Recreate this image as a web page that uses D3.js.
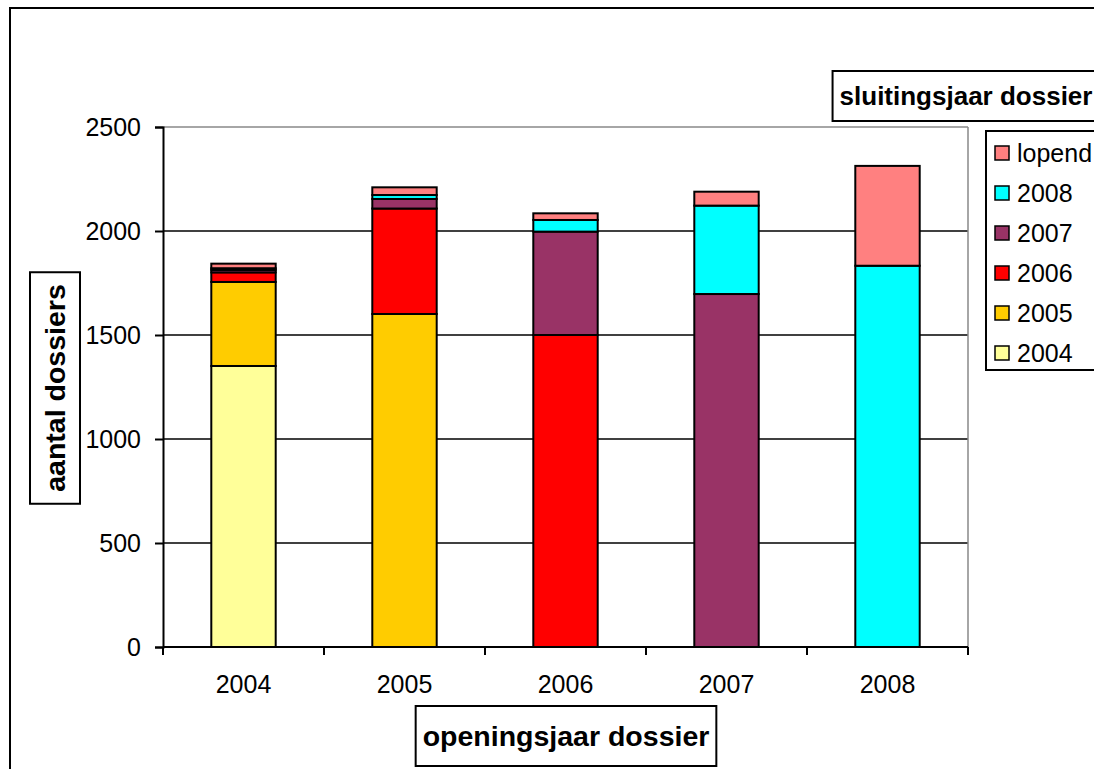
<!DOCTYPE html>
<html>
<head>
<meta charset="utf-8">
<script src="https://cdn.jsdelivr.net/npm/d3@7"></script>
<style>
  body { margin: 0; background: #fff; }
  text { font-family: "Liberation Sans", Arial, sans-serif; fill: #000; }
</style>
</head>
<body>
<div id="chart"></div>
<script>
const openingYears = ['2004', '2005', '2006', '2007', '2008']
const closingKeys = ['2004', '2005', '2006', '2007', '2008', 'lopend']
// per opening year, number of files closed in 2004..2008 or still running
const closed2004 = [1351, 0, 0, 0, 0]
const closed2005 = [404, 1601, 0, 0, 0]
const closed2006 = [46, 507, 1500, 0, 0]
const closed2007 = [12, 46, 497, 1697, 0]
const closed2008 = [8, 19, 56, 425, 1833]
const lopend = [22, 37, 32, 67, 480]
const yTicks = [0, 500, 1000, 1500, 2000, 2500]
const colors = ['#FFFF99', '#FFCC00', '#FF0000', '#993366', '#00FFFF', '#FF8080']

const width = 1094,
      height = 769
const margin = { top: 127, left: 163, right: 126, bottom: 122 }

const rows = openingYears.map(function(y, i) {
  return {
    year: y,
    '2004': closed2004[i], '2005': closed2005[i], '2006': closed2006[i],
    '2007': closed2007[i], '2008': closed2008[i], 'lopend': lopend[i]
  }
})

const svg = d3.select('#chart')
  .append('svg')
  .attr('width', width)
  .attr('height', height)

// outer chart frame
svg.append('rect')
  .attr('x', 10).attr('y', 8)
  .attr('width', 1200).attr('height', 900)
  .attr('fill', 'none').attr('stroke', '#000').attr('stroke-width', 2)

const x = d3.scaleBand()
  .domain(openingYears)
  .range([margin.left, width - margin.right])
  .paddingInner(0.6)
  .paddingOuter(0.3)

const y = d3.scaleLinear()
  .domain([0, 2500])
  .range([height - margin.bottom, margin.top])

// grid lines
svg.append('g')
  .selectAll('line')
  .data(yTicks.slice(1))
  .enter().append('line')
  .attr('x1', margin.left).attr('x2', width - margin.right)
  .attr('y1', function(d) { return y(d) })
  .attr('y2', function(d) { return y(d) })
  .attr('stroke', function(d) { return d === 2500 ? '#888' : '#000' })
  .attr('stroke-width', 1.5)

// right border of plot area
svg.append('line')
  .attr('x1', width - margin.right).attr('x2', width - margin.right)
  .attr('y1', y(2500)).attr('y2', y(0))
  .attr('stroke', '#888').attr('stroke-width', 1.5)

const stack = d3.stack().keys(closingKeys)(rows)

svg.append('g')
  .selectAll('g')
  .data(stack)
  .enter().append('g')
  .attr('fill', function(d, i) { return colors[i] })
  .selectAll('rect')
  .data(function(d) { return d.filter(function(s) { return s[1] - s[0] > 0 }) })
  .enter().append('rect')
  .attr('x', function(d) { return x(d.data.year) })
  .attr('width', x.bandwidth())
  .attr('y', function(d) { return y(d[1]) })
  .attr('height', function(d) { return y(d[0]) - y(d[1]) })
  .attr('stroke', '#000')
  .attr('stroke-width', 2)

// y axis
const yAxis = svg.append('g')
  .attr('transform', 'translate(' + margin.left + ',0)')
  .call(d3.axisLeft(y).tickValues(yTicks).tickFormat(d3.format('d')).tickSize(8).tickPadding(14))
yAxis.select('.domain').attr('stroke', '#000').attr('stroke-width', 2)
yAxis.selectAll('.tick line').attr('stroke', '#000').attr('stroke-width', 2)
yAxis.selectAll('text')
  .style('font-size', '25px')
  .attr('fill', '#000')
  .style('font-family', '"Liberation Sans", Arial, sans-serif')

// x axis: line, ticks at category boundaries, labels at centres
const xAxisY = y(0)
svg.append('line')
  .attr('x1', margin.left).attr('x2', width - margin.right)
  .attr('y1', xAxisY).attr('y2', xAxisY)
  .attr('stroke', '#000').attr('stroke-width', 2)

const bounds = openingYears.map(function(c) {
  return x(c) - x.step() * x.paddingOuter()
}).concat([width - margin.right])

svg.append('g')
  .selectAll('line')
  .data(bounds)
  .enter().append('line')
  .attr('x1', function(d) { return d }).attr('x2', function(d) { return d })
  .attr('y1', xAxisY).attr('y2', xAxisY + 8)
  .attr('stroke', '#000').attr('stroke-width', 2)

svg.append('g')
  .selectAll('text')
  .data(openingYears)
  .enter().append('text')
  .attr('x', function(d) { return x(d) + x.bandwidth() / 2 })
  .attr('y', xAxisY + 46)
  .attr('text-anchor', 'middle')
  .style('font-size', '25px')
  .text(function(d) { return d })

// boxed titles
function boxedLabel(tx, ty, label, size, rotate, padX, padY) {
  const g = svg.append('g')
    .attr('transform', 'translate(' + tx + ',' + ty + ')' + (rotate ? ' rotate(-90)' : ''))
  const t = g.append('text')
    .attr('text-anchor', 'middle')
    .attr('dominant-baseline', 'central')
    .style('font-size', size + 'px')
    .style('font-weight', 'bold')
    .text(label)
  const bb = t.node().getBBox()
  g.insert('rect', 'text')
    .attr('x', bb.x - padX).attr('y', bb.y - padY)
    .attr('width', bb.width + 2 * padX).attr('height', bb.height + 2 * padY)
    .attr('fill', '#fff').attr('stroke', '#000').attr('stroke-width', 2)
  return g
}

boxedLabel(566, 736, 'openingsjaar dossier', 28.5, false, 7, 14)
boxedLabel(55, 388, 'aantal dossiers', 28.5, true, 12, 9)
boxedLabel(966, 96, 'sluitingsjaar dossier', 26, false, 7, 10)

// legend
const legend = svg.append('g')
legend.append('rect')
  .attr('x', 986).attr('y', 131)
  .attr('width', 200).attr('height', 239)
  .attr('fill', '#fff').attr('stroke', '#000').attr('stroke-width', 2)

const legendKeys = closingKeys.slice().reverse()
const legendItems = legend.selectAll('.item')
  .data(legendKeys)
  .enter().append('g')
  .attr('class', 'item')
  .attr('transform', function(d, i) { return 'translate(995,' + (153 + i * 40) + ')' })

legendItems.append('rect')
  .attr('x', 0).attr('y', -7)
  .attr('width', 14).attr('height', 14)
  .attr('fill', function(d) { return colors[closingKeys.indexOf(d)] })
  .attr('stroke', '#000').attr('stroke-width', 1.5)

legendItems.append('text')
  .attr('x', 22)
  .attr('y', 0)
  .attr('dominant-baseline', 'central')
  .style('font-size', '25px')
  .text(function(d) { return d })
</script>
</body>
</html>
